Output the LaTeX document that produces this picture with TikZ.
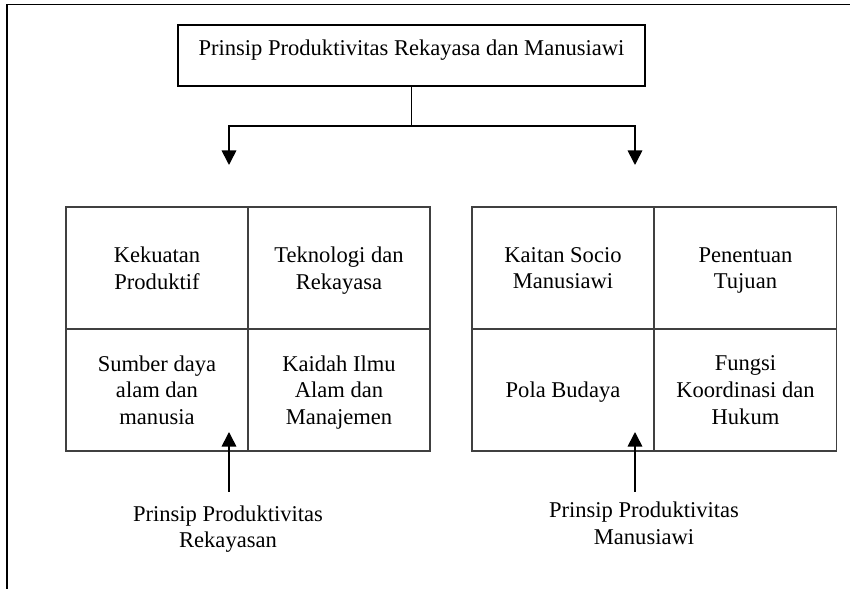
\documentclass[tikz,border=0pt]{standalone}
\usepackage{fontspec}
\setmainfont{Liberation Serif}
\usetikzlibrary{arrows.meta,positioning}
\newcommand{\txtfont}{\fontsize{12.4}{14.7}\selectfont}
\tikzstyle{Tbox}=[shape=rectangle,draw=black,line width=0.8pt,minimum width=256.9pt,minimum height=33.6pt,text depth=9pt,font=\txtfont]
\tikzstyle{Cell}=[shape=rectangle,draw=black!75,line width=0.9pt,minimum width=100.1pt,minimum height=67.1pt,inner sep=0pt,align=center,font=\txtfont,text depth=-2.5pt]
\tikzstyle{Lab}=[align=center,font=\txtfont]
\tikzstyle{frameline}=[line width=0.8pt]
\tikzstyle{heavyedge}=[-{Triangle[width=8pt,length=8pt]},line width=0.9pt]

\begin{document}
\begin{tikzpicture}[x=0.55pt,y=-0.55pt]
\useasboundingbox (0,0) rectangle (850,589);

\draw[frameline] (7,589) -- (7,4.5) -- (850,4.5);

\node[Tbox] (TITLE) at (411.5,55.5) {Prinsip Produktivitas Rekayasa dan Manusiawi};

% left block
\node[Cell] (KP) at (157,268) {Kekuatan\\Produktif};
\node[Cell] (TR) at (339,268) {Teknologi dan\\Rekayasa};
\node[Cell] (SD) at (157,390) {Sumber daya\\alam dan\\manusia};
\node[Cell] (KI) at (339,390) {Kaidah Ilmu\\Alam dan\\Manajemen};

% right block
\node[Cell] (KS) at (563,268) {Kaitan Socio\\Manusiawi};
\node[Cell] (PT) at (745.5,268) {Penentuan\\Tujuan};
\node[Cell] (PB) at (563,390) {Pola Budaya};
\node[Cell] (FK) at (745.5,390) {Fungsi\\Koordinasi dan\\Hukum};

\node[Lab] (REK) at (228,529) {Prinsip Produktivitas\\Rekayasan};
\node[Lab] (MAN) at (644,523) {Prinsip Produktivitas\\Manusiawi};

\coordinate (JUNC) at (411.5,126);
\coordinate (DOWNL) at (229,165);
\coordinate (DOWNR) at (635,165);
\coordinate (UPL) at (229,432);
\coordinate (UPR) at (635,432);

\draw[line width=0.9pt] (TITLE.south) -- (JUNC);
\draw[heavyedge] (JUNC) -| (DOWNL);
\draw[heavyedge] (JUNC) -| (DOWNR);

\path
(UPL |- 0,492) edge [heavyedge] (UPL)
(UPR |- 0,492) edge [heavyedge] (UPR);

\end{tikzpicture}
\end{document}
